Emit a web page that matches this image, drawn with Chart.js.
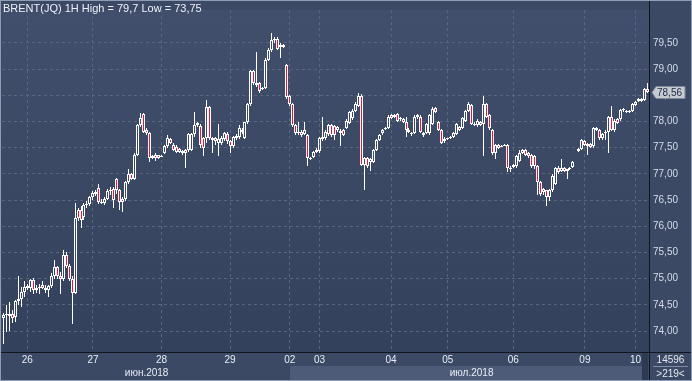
<!DOCTYPE html>
<html>
<head>
<meta charset="utf-8">
<script src="https://cdn.jsdelivr.net/npm/chart.js@4.4.1/dist/chart.umd.min.js"></script>
<style>
  html, body { margin: 0; padding: 0; background: #3b4965; }
  #wrap { width: 692px; height: 381px; }
</style>
</head>
<body>
<div id="wrap"><canvas id="brentChart" width="692" height="381"></canvas></div>
<script>
// BRENT(JQ) 1H candles, 26 Jun - 10 Jul 2018
const openVals = [
  74.25,74.30,74.32,74.32,74.26,74.58,74.62,74.75,74.86,74.82,74.98,74.78,74.82,74.88,74.82,74.78,74.86,75.05,75.22,75.05,75.00,75.45,75.25,75.00,74.72,76.31,76.32,76.18,76.40,76.42,76.55,76.62,76.74,76.47,76.45,76.52,76.68,
  76.72,76.90,76.70,76.47,76.52,76.84,77.00,76.90,77.37,77.93,78.15,77.84,77.78,77.31,77.36,77.36,77.33,77.40,77.53,77.66,77.56,77.52,77.42,77.40,77.40,77.45,77.46,77.76,77.94,77.92,77.68,77.68,78.27,
  77.68,77.68,77.60,77.59,77.66,77.76,77.62,77.53,77.72,77.70,77.84,77.68,77.99,78.34,78.96,78.74,78.74,78.62,78.65,79.18,79.36,79.55,79.58,79.42,79.46,
  79.08,78.49,78.34,77.93,77.81,77.81,77.76,77.74,77.31,77.33,77.41,
  77.43,77.66,77.68,77.76,77.94,77.92,77.84,77.82,77.84,77.87,77.98,78.06,78.21,78.30,78.49,77.18,77.31,77.22,77.22,77.46,77.65,77.78,77.86,77.87,78.12,78.09,78.15,78.04,78.04,77.99,77.84,77.76,77.78,78.09,78.09,
  77.78,77.78,77.78,77.96,78.26,77.99,77.84,77.62,77.68,77.69,77.71,77.76,77.90,77.87,78.02,78.21,78.32,77.93,77.93,77.99,77.96,78.34,78.12,77.84,77.40,77.56,77.53,77.55,77.56,77.12,77.13,77.15,77.24,77.40,77.46,
  77.40,77.37,77.34,77.15,76.84,76.66,76.69,76.56,76.69,76.81,77.12,77.06,77.12,77.06,77.09,77.14,null,77.48,77.48,77.62,77.58,77.58,77.53,77.87,77.84,77.68,77.79,77.81,78.09,77.84,78.04,78.04,78.22,78.21,78.18,78.21,78.32,78.39,78.43,78.41,78.62
];
const highVals = [
  74.35,74.50,74.55,74.40,74.60,75.05,74.85,74.95,74.90,75.00,75.02,74.88,74.90,74.95,74.88,74.88,75.10,75.35,75.25,75.12,75.55,75.50,75.28,75.05,76.45,76.35,76.38,76.45,76.48,76.58,76.68,76.70,76.80,76.52,76.56,76.72,76.75,
  76.75,76.92,76.72,76.56,76.86,77.09,77.02,77.40,77.95,78.17,78.16,77.88,77.80,77.36,77.40,77.37,77.36,77.55,77.74,77.68,77.60,77.55,77.50,77.46,77.48,77.78,77.78,78.18,78.00,77.95,77.70,78.42,78.30,
  77.71,77.70,77.96,77.72,77.80,77.80,77.64,77.73,77.76,77.93,77.88,78.00,78.36,78.99,78.98,79.33,78.76,78.66,79.21,79.40,79.70,79.62,79.62,79.50,79.48,
  79.10,78.50,78.36,77.95,77.99,77.83,77.99,77.76,77.33,77.43,77.50,
  77.70,78.09,77.83,77.95,77.96,77.93,77.92,77.85,77.86,78.04,78.20,78.24,78.37,78.55,78.52,77.33,77.33,77.30,77.48,77.67,77.77,77.86,77.90,78.12,78.14,78.14,78.16,78.09,78.07,78.09,77.87,77.80,78.12,78.15,78.12,
  77.80,77.98,78.14,78.27,78.28,78.01,77.86,77.70,77.69,77.73,77.80,77.98,77.92,78.08,78.23,78.38,78.34,77.99,78.04,78.02,78.49,78.36,78.14,77.86,77.58,77.58,77.56,77.58,77.58,77.15,77.19,77.36,77.46,77.48,77.48,
  77.42,77.39,77.36,77.17,76.86,76.74,76.70,76.72,77.00,77.14,77.15,77.29,77.14,77.10,77.14,77.24,null,77.50,77.66,77.64,77.60,77.60,77.89,77.89,77.86,77.78,77.83,78.11,78.30,78.04,78.06,78.24,78.26,78.23,78.23,78.36,78.39,78.45,78.45,78.65,78.74
];
const lowVals = [
  73.75,73.98,74.00,74.15,74.18,74.50,74.45,74.65,74.78,74.75,74.70,74.72,74.70,74.80,74.72,74.65,74.82,75.00,75.00,74.70,74.95,75.20,74.95,74.14,74.70,76.10,75.97,76.12,76.35,76.38,76.50,76.58,76.42,76.42,76.40,76.50,76.60,
  76.34,76.62,76.31,76.28,76.48,76.80,76.88,76.88,77.35,77.90,77.78,77.75,77.22,77.28,77.25,77.28,77.32,77.38,77.50,77.57,77.43,77.40,77.40,77.37,77.12,77.42,77.44,77.70,77.90,77.50,77.34,77.60,77.65,
  77.40,77.55,77.34,77.55,77.62,77.58,77.40,77.50,77.64,77.66,77.76,77.66,77.96,78.30,78.70,78.66,78.55,78.60,78.62,79.15,79.33,79.50,79.36,79.21,79.40,
  78.44,78.30,77.90,77.75,77.74,77.70,77.74,77.15,77.26,77.30,77.40,
  77.40,77.62,77.65,77.72,77.70,77.65,77.80,77.53,77.72,77.85,77.96,78.03,78.18,78.28,77.15,76.69,77.12,77.06,77.20,77.43,77.62,77.75,77.84,77.85,78.04,78.07,78.00,78.02,77.97,77.71,77.78,77.72,77.76,78.05,77.78,
  77.70,77.76,77.75,77.94,78.16,77.82,77.57,77.60,77.64,77.67,77.68,77.74,77.82,77.85,78.00,78.18,77.94,77.91,77.90,77.91,77.34,78.06,77.84,77.37,77.28,77.48,77.51,77.53,77.03,77.04,77.11,77.12,77.22,77.38,77.34,
  77.30,77.12,77.10,76.59,76.58,76.60,76.38,76.49,76.66,76.78,77.00,77.04,77.03,76.91,77.07,77.12,null,77.41,77.45,77.54,77.37,77.49,77.50,77.82,77.65,77.65,77.65,77.40,77.82,77.80,77.95,78.01,78.18,78.16,78.16,78.18,78.30,78.37,78.37,78.39,78.55
];
const closeVals = [
  74.30,74.32,74.28,74.24,74.58,74.62,74.75,74.85,74.82,74.98,74.78,74.82,74.85,74.82,74.78,74.86,75.05,75.22,75.05,75.00,75.45,75.25,75.00,74.72,76.15,76.16,76.12,76.40,76.42,76.55,76.64,76.66,76.47,76.45,76.52,76.68,76.70,
  76.50,76.70,76.47,76.52,76.84,77.00,76.90,77.37,77.93,78.06,77.81,77.78,77.31,77.34,77.31,77.30,77.35,77.53,77.68,77.60,77.45,77.42,77.48,77.44,77.46,77.76,77.76,77.94,77.97,77.56,77.50,78.27,77.68,
  77.65,77.62,77.66,77.68,77.78,77.62,77.53,77.71,77.68,77.87,77.80,77.99,78.34,78.96,78.74,78.70,78.58,78.65,79.18,79.36,79.55,79.58,79.39,79.46,79.43,
  78.46,78.34,77.93,77.78,77.78,77.74,77.84,77.31,77.28,77.41,77.46,
  77.68,77.71,77.81,77.93,77.74,77.74,77.89,77.78,77.74,78.02,78.18,78.21,78.34,78.49,77.18,77.31,77.15,77.28,77.46,77.65,77.74,77.84,77.88,78.09,78.06,78.12,78.02,78.06,77.99,77.84,77.80,77.78,78.09,78.12,77.80,
  77.75,77.96,78.12,78.24,78.18,77.84,77.59,77.66,77.66,77.71,77.78,77.96,77.84,78.06,78.21,78.34,77.96,77.96,78.02,77.93,78.34,78.09,77.87,77.40,77.56,77.50,77.54,77.56,77.12,77.10,77.17,77.34,77.40,77.46,77.36,
  77.34,77.15,77.15,76.84,76.62,76.72,76.56,76.69,76.97,77.12,77.03,77.12,77.06,77.09,77.12,77.22,null,77.43,77.64,77.56,77.54,77.51,77.87,77.84,77.68,77.76,77.81,78.09,77.84,78.02,77.97,78.22,78.24,78.18,78.21,78.34,78.37,78.43,78.39,78.63,78.56
];

// axis labels
const dayLabels = ['26', '27', '28', '29', '02', '03', '04', '05', '06', '09', '10'];
const dayIndex  = [8, 30, 53, 76, 96, 106, 130, 149, 171, 195, 212];
const monthLabels = ['июн.2018', 'июл.2018'];
const monthStart  = [0, 96];
const priceTicks = [74, 74.5, 75, 75.5, 76, 76.5, 77, 77.5, 78, 78.5, 79, 79.5];
const symbolName = 'BRENT(JQ)';
const timeframe = '1H';
const barsTotal = '14596';
const barsVisible = '>219<';

const FONT = '"Liberation Sans", Arial, sans-serif';
const RED = '#ec1238';
const fmt = v => String(+v.toFixed(2)).replace('.', ',');

const bodies = openVals.map((o, i) => o == null ? null : [Math.min(o, closeVals[i]), Math.max(o, closeVals[i])]);
const upperWick = openVals.map((o, i) => o == null ? null : [Math.max(o, closeVals[i]), highVals[i]]);
const lowerWick = openVals.map((o, i) => o == null ? null : [lowVals[i], Math.min(o, closeVals[i])]);
const bodyFill = openVals.map((o, i) => (o != null && closeVals[i] < o) ? RED : 'rgba(0,0,0,0)');

// month centres for the lower axis row
const monthCenter = monthStart.map((s, k) => Math.round((s + (k + 1 < monthStart.length ? monthStart[k + 1] : closeVals.length)) / 2));

// snap the bars the scales placed onto whole pixels so the thin candles stay crisp
const snapPlugin = {
  id: 'snapPlugin',
  afterDatasetsUpdate(chart) {
    chart.data.datasets.forEach((ds, di) => {
      chart.getDatasetMeta(di).data.forEach(el => {
        if (el.skip || !isFinite(el.x)) return;
        el.x = Math.floor(el.x) + 0.5;
        el.y = Math.round(el.y);
        el.base = Math.round(el.base);
        if (el.base === el.y && ds.label === 'body') el.base = el.y + 1;
      });
    });
  }
};

const bgPlugin = {
  id: 'bgPlugin',
  beforeDraw(chart) {
    const { ctx, chartArea: a, scales: { x } } = chart;
    ctx.save();
    ctx.fillStyle = '#3b4965';
    ctx.fillRect(0, 0, chart.width, chart.height);
    const g = ctx.createLinearGradient(0, a.top, 0, a.bottom);
    g.addColorStop(0, '#414f6c');
    g.addColorStop(1, '#34415c');
    ctx.fillStyle = g;
    ctx.fillRect(a.left, a.top, a.right - a.left, a.bottom - a.top);
    // july band in the month row
    const bx = Math.round(x.getPixelForValue(monthStart[1]));
    ctx.fillStyle = '#4d5b78';
    ctx.fillRect(bx, a.bottom + 14, a.right - 7 - bx, chart.height - a.bottom - 15);
    ctx.fillStyle = '#2e3a52';
    ctx.fillRect(a.right - 7, a.bottom + 1, 6, chart.height - a.bottom - 2);
    ctx.restore();
  }
};

const overlayPlugin = {
  id: 'overlayPlugin',
  afterDraw(chart) {
    const { ctx, chartArea: a, scales: { y } } = chart;
    ctx.save();
    ctx.strokeStyle = '#11151d';
    ctx.lineWidth = 1;
    ctx.beginPath();
    ctx.moveTo(0, Math.round(a.bottom) + 0.5);
    ctx.lineTo(chart.width, Math.round(a.bottom) + 0.5);
    ctx.moveTo(Math.round(a.right) + 0.5, 0);
    ctx.lineTo(Math.round(a.right) + 0.5, chart.height);
    ctx.stroke();

    // title
    const hi = Math.max(...highVals.filter(v => v != null));
    const lo = Math.min(...lowVals.filter(v => v != null));
    ctx.font = '11px ' + FONT;
    ctx.fillStyle = '#eef2f8';
    ctx.textAlign = 'left';
    ctx.textBaseline = 'middle';
    ctx.fillText(symbolName + ' ' + timeframe + ' High = ' + fmt(hi) + ' Low = ' + fmt(lo), 3, 9);

    // last price marker
    const last = closeVals[closeVals.length - 1];
    const py = Math.round(y.getPixelForValue(last)) + 0.5;
    const bx = Math.round(a.right) + 3;
    ctx.fillStyle = '#c6cad1';
    ctx.strokeStyle = '#7d889a';
    ctx.beginPath();
    ctx.moveTo(bx, py);
    ctx.lineTo(bx + 4, py - 6);
    ctx.lineTo(bx + 33, py - 6);
    ctx.lineTo(bx + 33, py + 6);
    ctx.lineTo(bx + 4, py + 6);
    ctx.closePath();
    ctx.fill();
    ctx.stroke();
    ctx.fillStyle = '#1c2a44';
    ctx.font = '10px ' + FONT;
    ctx.fillText(fmt(last), bx + 5, py + 0.5);

    // bar counter box
    const cx = (a.right + chart.width) / 2;
    ctx.textAlign = 'center';
    ctx.fillStyle = '#e3e8f0';
    ctx.fillText(barsTotal, cx, a.bottom + 8);
    ctx.fillText(barsVisible, cx, a.bottom + 22);
    ctx.strokeStyle = '#7f8ca3';
    ctx.beginPath();
    ctx.moveTo(a.right + 4, a.bottom + 14.5);
    ctx.lineTo(chart.width - 4, a.bottom + 14.5);
    ctx.stroke();

    // outer frame
    ctx.strokeStyle = '#8f9db4';
    ctx.strokeRect(0.5, 0.5, chart.width - 1, chart.height - 1);
    ctx.restore();
  }
};

const ctx = document.getElementById('brentChart');
const brentChart = new Chart(ctx, {
  type: 'bar',
  data: {
    labels: closeVals.map((v, i) => String(i)),
    datasets: [
      { label: 'upper', data: upperWick, backgroundColor: '#ffffff', barThickness: 1, order: 2 },
      { label: 'lower', data: lowerWick, backgroundColor: '#ffffff', barThickness: 1, order: 2 },
      { label: 'body', data: bodies, backgroundColor: bodyFill, borderColor: '#ffffff', borderWidth: 1, barThickness: 3, order: 1 }
    ]
  },
  options: {
    responsive: false,
    animation: false,
    events: [],
    layout: { padding: { left: 2, top: 2, right: 0, bottom: 0 } },
    datasets: { bar: { grouped: false, borderSkipped: false, inflateAmount: 0 } },
    plugins: { legend: { display: false }, tooltip: { enabled: false } },
    scales: {
      x: {
        type: 'category',
        position: 'bottom',
        weight: 0,
        offset: true,
        grid: {
          offset: false,
          drawTicks: false,
          color: c => dayIndex.includes(c.index) ? '#58667f' : 'rgba(0,0,0,0)'
        },
        border: { display: false, dash: [3, 3] },
        ticks: {
          autoSkip: false, maxRotation: 0, minRotation: 0, padding: 2,
          color: '#e8edf5', font: { family: FONT, size: 10 },
          callback: (v, i) => { const k = dayIndex.indexOf(i); return k >= 0 ? dayLabels[k] : ''; }
        },
        afterFit: ax => { ax.height = 14; }
      },
      xm: {
        type: 'category',
        position: 'bottom',
        weight: 1,
        offset: true,
        grid: { display: false, drawTicks: false },
        border: { display: false },
        ticks: {
          autoSkip: false, maxRotation: 0, minRotation: 0, padding: 1,
          color: '#e8edf5', font: { family: FONT, size: 10 },
          callback: (v, i) => { const k = monthCenter.indexOf(i); return k >= 0 ? monthLabels[k] : ''; }
        },
        afterFit: ax => { ax.height = 15; }
      },
      y: {
        position: 'right',
        min: 73.6,
        max: 80.13,
        afterBuildTicks: ax => { ax.ticks = priceTicks.map(v => ({ value: v })); },
        afterFit: ax => { ax.width = 43; },
        grid: { color: '#58667f', drawTicks: false },
        border: { display: false, dash: [3, 3] },
        ticks: {
          padding: 4, color: '#d5dce7', font: { family: FONT, size: 10 },
          callback: v => v.toFixed(2).replace('.', ',')
        }
      }
    }
  },
  plugins: [snapPlugin, bgPlugin, overlayPlugin]
});
</script>
</body>
</html>
